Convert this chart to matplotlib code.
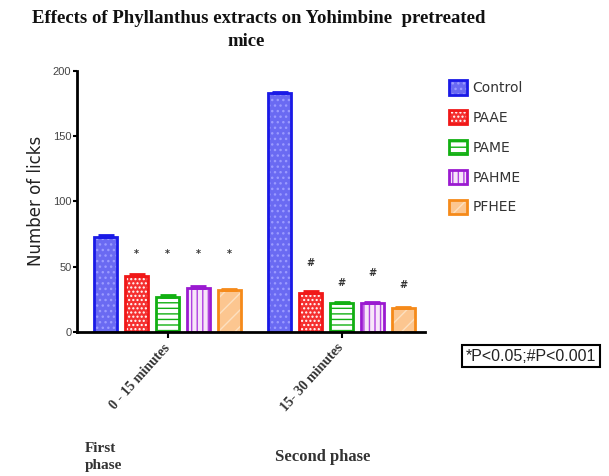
import matplotlib
matplotlib.use('Agg')
import matplotlib.pyplot as plt
import numpy as np
from matplotlib.patches import Patch
from matplotlib.legend_handler import HandlerTuple

# licks per group, first phase (0-15 min) and second phase (15-30 min)
groups = ['Control', 'PAAE', 'PAME', 'PAHME', 'PFHEE']
phases = ['0 - 15 minutes', '15- 30 minutes']
first_phase = [73, 43, 27, 34, 32]
second_phase = [183, 30, 22, 22, 18]
first_sem = [1.0, 1.5, 1.0, 1.0, 1.0]
second_sem = [1.0, 1.5, 1.0, 1.0, 1.0]
first_marks = ['', '*', '*', '*', '*']
second_marks = ['', '#', '#', '#', '#']
first_mark_y = [0, 60, 60, 60, 60]
second_mark_y = [0, 53, 37.5, 45, 36]

edge = ['#1a1ae6', '#f01818', '#12b012', '#9a1ad0', '#f58a1a']
fill = ['#6a6af2', '#f53030', '#ffffff', '#f7e6f9', '#fcc690']
hatch_col = ['#9a9aff', '#ffffff', '#12b012', '#b040e0', '#fde0c0']
hatches = ['...', '....', '---', '|||', '//']

fig = plt.figure(figsize=(6.09, 4.76), dpi=100)
ax = fig.add_axes([0.1264, 0.3025, 0.5714, 0.549])

width = 0.75
gap = 5.65
x1 = np.arange(len(groups))
x2 = x1 + gap

handles = []
for i, g in enumerate(groups):
    for xs, vals, errs in ((x1, first_phase, first_sem), (x2, second_phase, second_sem)):
        ax.bar(xs[i], vals[i], width, color=fill[i], edgecolor=hatch_col[i],
               hatch=hatches[i], linewidth=0, zorder=2)
        ax.bar(xs[i], vals[i], width, color='none', edgecolor=edge[i],
               linewidth=2, zorder=3)
        ax.errorbar(xs[i], vals[i], yerr=[[0], [errs[i]]], color=edge[i],
                    capsize=6, elinewidth=1.5, capthick=2, zorder=4)
    p1 = Patch(facecolor=fill[i], edgecolor=hatch_col[i], hatch=hatches[i], linewidth=0)
    p2 = Patch(facecolor='none', edgecolor=edge[i], linewidth=2)
    handles.append((p1, p2))

for xs, marks, ys in ((x1, first_marks, first_mark_y), (x2, second_marks, second_mark_y)):
    for x, m, y in zip(xs, marks, ys):
        if m:
            ax.text(x, y, m, ha='center', va='center', fontsize=7,
                    color='#333333', fontweight='bold')

ax.set_xlim(-0.94, 10.36)
ax.set_ylim(0, 200)
ax.set_yticks([0, 50, 100, 150, 200])
ax.set_xticks([2, 2 + gap])
ax.set_xticklabels(phases, rotation=48, ha='right', va='center',
                   rotation_mode='anchor', family='Liberation Serif', fontsize=10,
                   fontweight='bold', color='#333333')
for s in ['top', 'right']:
    ax.spines[s].set_visible(False)
for s in ['left', 'bottom']:
    ax.spines[s].set_linewidth(2)
ax.spines['bottom'].set_zorder(5)
ax.tick_params(axis='y', direction='out', length=3, width=1.5, labelsize=8,
               labelcolor='#444444', pad=1)
ax.tick_params(axis='x', direction='out', length=4, width=1.5, pad=6)
for lab in ax.get_yticklabels():
    lab.set_family('Liberation Sans')

ax.set_ylabel('Number of licks', fontsize=12, family='DejaVu Sans',
              color='#222222', labelpad=6)

fig.text(0.425, 0.962, 'Effects of Phyllanthus extracts on Yohimbine  pretreated',
         ha='center', va='center', family='Liberation Serif', fontweight='bold',
         fontsize=13.5, color='#111111')
fig.text(0.405, 0.913, 'mice', ha='center', va='center', family='Liberation Serif',
         fontweight='bold', fontsize=13.5, color='#111111')

leg = fig.legend(handles, groups, handler_map={tuple: HandlerTuple(ndivide=1)},
                 loc='upper left', bbox_to_anchor=(0.728, 0.843), frameon=False,
                 fontsize=10, handlelength=1.3, handleheight=1.2,
                 labelspacing=1.08, handletextpad=0.4, borderaxespad=0)
for t in leg.get_texts():
    t.set_color('#333333')

fig.text(0.765, 0.252, '*P<0.05;#P<0.001', ha='left', va='center', fontsize=11.5,
         family='Liberation Sans', color='#222222',
         bbox=dict(boxstyle='square,pad=0.22', facecolor='white',
                   edgecolor='black', linewidth=1.5))

fig.text(0.14, 0.04, 'First\nphase', ha='left', va='center', family='Liberation Serif',
         fontweight='bold', fontsize=11, color='#333333', linespacing=1.35)
fig.text(0.53, 0.04, 'Second phase', ha='center', va='center', family='Liberation Serif',
         fontweight='bold', fontsize=12, color='#333333')

fig.savefig('out.png', dpi=100)
